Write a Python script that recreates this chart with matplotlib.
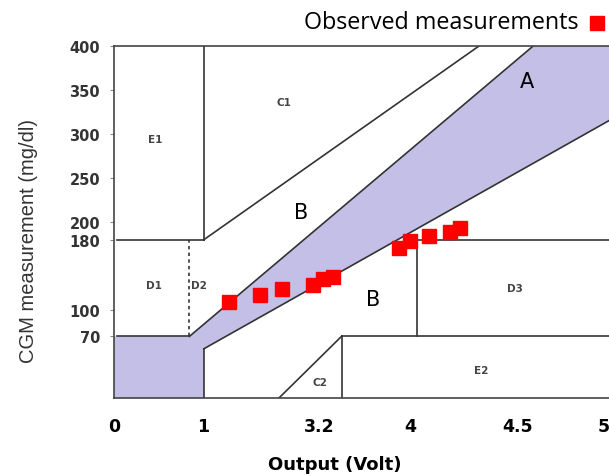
import matplotlib
matplotlib.use("Agg")
import matplotlib.pyplot as plt
from matplotlib.lines import Line2D
from matplotlib.patches import Polygon

# observed points, in grid units (x: reference scale, y: CGM mg/dl)
obs_x = [90, 115, 132, 157, 165, 173, 226, 235, 250, 267, 275]
obs_y = [109, 117, 124, 128, 135, 138, 170, 178, 184, 189, 193]

yticks = [400, 350, 300, 250, 200, 180, 100, 70]
xtick_pos = [-2, 69, 162, 235, 321, 390]
xtick_labels = ['0', '1', '3.2', '4', '4.5', '5']

# zone text: (label, x, y, big?)
zone_labels = [
    ('E1', 31, 294, False), ('C1', 134, 336, False), ('D1', 30, 128, False),
    ('D2', 66, 128, False), ('D3', 319, 125, False), ('E2', 292, 32, False),
    ('C2', 163, 18, False), ('A', 328, 360, True), ('B', 148, 211, True),
    ('B', 205, 112, True),
]

# Clarke grid boundary segments
segments = [
    ([175 / 3, 400 / 1.2], [70, 400]),
    ([70, 400], [56, 320]),
    ([0, 175 / 3], [70, 70]),
    ([70, 70], [180, 400]),
    ([70, 70], [0, 56]),
    ([0, 70], [180, 180]),
    ([70, 290], [180, 400]),
    ([180, 180], [0, 70]),
    ([180, 400], [70, 70]),
    ([240, 240], [70, 180]),
    ([240, 400], [180, 180]),
    ([130, 180], [0, 70]),
]
zone_a = [(-10, -10), (70, -10), (70, 56), (400, 320), (400, 400),
          (400 / 1.2, 400), (175 / 3, 70), (-10, 70)]

fig = plt.figure(figsize=(6.09, 4.77), dpi=100)
ax = fig.add_axes([114 / 609, 78 / 477, 1 - 114 / 609, 352 / 477])

ax.add_patch(Polygon(zone_a, closed=True, facecolor='#c4bfe6', edgecolor='none', zorder=1))
for xs, ys in segments:
    ax.plot(xs, ys, color='#333333', lw=1.2, zorder=2)
ax.plot([175 / 3, 175 / 3], [70, 180], color='#333333', lw=1.2, ls=(0, (2, 2)), zorder=2)

ax.plot(obs_x, obs_y, ls='none', marker='s', ms=9.5, color='#ff0000', zorder=3)

for lab, x, y, big in zone_labels:
    if big:
        ax.text(x, y, lab, fontsize=15, ha='center', va='center', color='black', zorder=4)
    else:
        ax.text(x, y, lab, fontsize=7.5, fontweight='bold', ha='center', va='center',
                color='#444444', zorder=4)

ax.set_xlim(0, 394)
ax.set_ylim(0, 400)
ax.spines['right'].set_visible(False)
for s in ['left', 'top', 'bottom']:
    ax.spines[s].set_color('#444444')
    ax.spines[s].set_linewidth(1.2)

ax.set_yticks(yticks)
ax.set_yticklabels([str(v) for v in yticks], fontsize=10.5, fontweight='bold', color='#333333')
ax.tick_params(axis='y', length=3, color='#888888', pad=7)
ax.set_xticks(xtick_pos)
ax.set_xticklabels(xtick_labels, fontsize=12.5, fontweight='bold', color='black')
ax.tick_params(axis='x', length=0, pad=14)

fig.text(335 / 609, 1 - 465 / 477, 'Output (Volt)', fontsize=13, fontweight='bold',
         ha='center', va='center')
fig.text(29 / 609, 1 - 241 / 477, 'CGM measurement (mg/dl)', fontsize=14.5, rotation=90,
         ha='center', va='center', color='#333333', family='Liberation Sans')

fig.text(578 / 609, 1 - 23 / 477, 'Observed measurements', fontsize=16.8,
         ha='right', va='center', family='Open Sans')
fig.add_artist(Line2D([597 / 609], [1 - 24 / 477], marker='s', ms=10.5, color='#ff0000',
                      ls='none', transform=fig.transFigure))

fig.savefig('out.png', dpi=100)
